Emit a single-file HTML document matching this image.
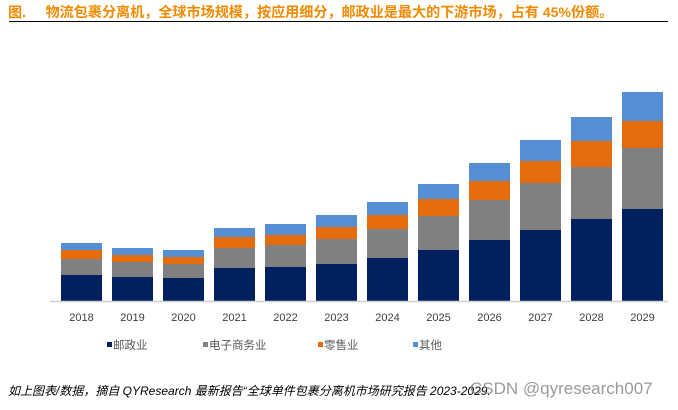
<!DOCTYPE html>
<html><head><meta charset="utf-8">
<style>
body{margin:0;width:678px;height:410px;background:#fff;overflow:hidden;position:relative;font-family:"Liberation Sans","Noto Sans CJK SC",sans-serif}
#title{position:absolute;left:8px;top:2px;font-size:14.1px;font-weight:bold;color:#f28a00;white-space:nowrap;font-family:"Liberation Sans","Noto Sans CJK SC",sans-serif}
#rule{position:absolute;left:9px;top:21px;width:659px;height:1px;background:#000}
#foot{position:absolute;left:8px;top:382px;font-size:12px;font-style:italic;color:#000;white-space:nowrap}
#wm{position:absolute;left:470px;top:379px;font-size:17px;color:rgba(120,120,120,0.75);white-space:nowrap}
</style></head><body>
<div id="title">图.&nbsp;&nbsp;&nbsp;&nbsp;&nbsp;物流包裹分离机，全球市场规模，按应用细分，邮政业是最大的下游市场，占有 45%份额。</div>
<div id="rule"></div>
<svg id="chart" width="678" height="410" style="position:absolute;left:0;top:0"></svg>
<div id="foot">如上图表/数据，摘自 QYResearch 最新报告“全球单件包裹分离机市场研究报告 2023-2029.</div>
<div id="wm">CSDN @qyresearch007</div>
<script>
const years=["2018","2019","2020","2021","2022","2023","2024","2025","2026","2027","2028","2029"];
const postal=[26,24,23,33,34,37,43,51,61,71,82,92];
const ecommerce=[16,15,14,20,22,25,29,34,40,47,52,61];
const retail=[9,7,7,11,10,12,14,17,19,22,26,27];
const other=[7,7,7,9,11,12,13,15,18,21,24,29];
const seriesNames=["邮政业","电子商务业","零售业","其他"];
const colors=["#002060","#808080","#e46c0a","#558ed5"];
const series=[postal,ecommerce,retail,other];
const svg=document.getElementById('chart');
const NS="http://www.w3.org/2000/svg";
const baseY=301, pxPerUnit=1, x0=61, step=51, bw=41;
function xPos(i){return x0+i*step;}
function yPos(v){return baseY-v*pxPerUnit;}
function mk(tag,attrs){const e=document.createElementNS(NS,tag);for(const k in attrs)e.setAttribute(k,attrs[k]);svg.appendChild(e);return e;}
years.forEach((yr,i)=>{
  let cum=0;
  series.forEach((s,k)=>{
    const y1=yPos(cum+s[i]), y0=yPos(cum);
    const r=mk('rect',{x:xPos(i),y:y1,width:bw,height:y0-y1,fill:colors[k]});
    
    
    cum+=s[i];
  });
  const t=mk('text',{x:xPos(i)+bw/2,y:321,'text-anchor':'middle','font-size':'11',fill:'#404040'});
  t.textContent=yr;
  
  
});
const ax=mk('line',{x1:50,y1:baseY+0.5,x2:668,y2:baseY+0.5,stroke:'#d0d0d0','stroke-width':1.5});


const legX=[107,203,318,413];
seriesNames.forEach((n,k)=>{
  const r=mk('rect',{x:legX[k],y:342,width:5,height:5,fill:colors[k]});
  
  
  const t=mk('text',{x:legX[k]+6,y:349,'font-size':'11.5',fill:'#595959'});
  t.textContent=n;
  
  
});
</script>
</body></html>
